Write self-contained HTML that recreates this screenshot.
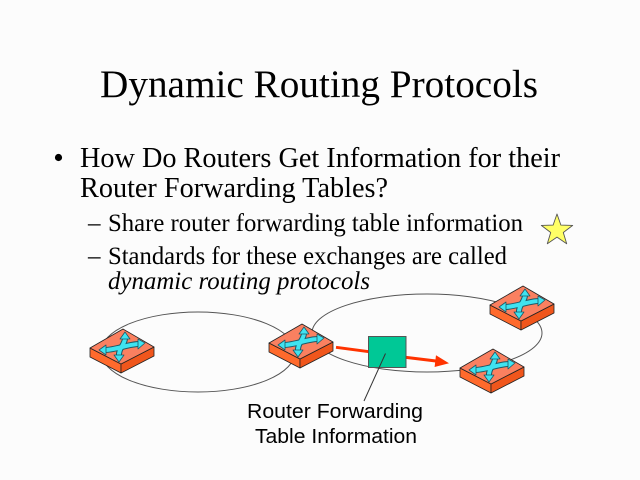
<!DOCTYPE html>
<html>
<head>
<meta charset="utf-8">
<style>
  html,body{margin:0;padding:0;background:#fcfcfc;}
  svg{display:block;}
</style>
</head>
<body>
<svg width="640" height="480" viewBox="0 0 640 480" xmlns="http://www.w3.org/2000/svg">
  <rect x="0" y="0" width="640" height="480" fill="#fcfcfc"/>

  <!-- Title -->
  <text x="100" y="97" font-family="'Liberation Serif', serif" font-size="39" fill="#000" textLength="438" lengthAdjust="spacingAndGlyphs">Dynamic Routing Protocols</text>

  <!-- Bullet -->
  <circle cx="58.5" cy="157.5" r="3.6" fill="#000"/>
  <text x="80" y="167" font-family="'Liberation Serif', serif" font-size="28" fill="#000" textLength="480" lengthAdjust="spacingAndGlyphs">How Do Routers Get Information for their</text>
  <text x="80" y="197" font-family="'Liberation Serif', serif" font-size="28" fill="#000" textLength="308" lengthAdjust="spacingAndGlyphs">Router Forwarding Tables?</text>

  <!-- Sub bullets -->
  <text x="88" y="231" font-family="'Liberation Serif', serif" font-size="25" fill="#000">–</text>
  <text x="108" y="231" font-family="'Liberation Serif', serif" font-size="25" fill="#000" textLength="415" lengthAdjust="spacingAndGlyphs">Share router forwarding table information</text>
  <text x="88" y="264" font-family="'Liberation Serif', serif" font-size="25" fill="#000">–</text>
  <text x="108" y="264" font-family="'Liberation Serif', serif" font-size="25" fill="#000" textLength="399" lengthAdjust="spacingAndGlyphs">Standards for these exchanges are called</text>
  <text x="108" y="289" font-family="'Liberation Serif', serif" font-size="25" font-style="italic" fill="#000" textLength="262" lengthAdjust="spacingAndGlyphs">dynamic routing protocols</text>

  <!-- Star -->
  <polygon points="557,214 560.9,225.1 572.7,225.4 563.3,232.5 566.7,243.8 557,237.1 547.3,243.8 550.7,232.5 541.3,225.4 553.1,225.1"
           fill="#ffff66" stroke="#555" stroke-width="0.9" stroke-linejoin="round"/>

  <!-- Ellipses -->
  <ellipse cx="198" cy="352" rx="97" ry="40" fill="none" stroke="#555" stroke-width="1"/>
  <ellipse cx="427" cy="333" rx="115" ry="39" fill="none" stroke="#555" stroke-width="1"/>

  <!-- Router definition -->
  <defs>
    <g id="router">
      <polygon points="-33,19 -2,35 -2,44 -33,28" fill="#ff6a2c" stroke="#222" stroke-width="0.8" stroke-linejoin="round"/>
      <polygon points="-2,35 31,18 31,27 -2,44" fill="#f0561c" stroke="#222" stroke-width="0.8" stroke-linejoin="round"/>
      <polygon points="0,0 31,18 -2,35 -33,19" fill="#fa8060" stroke="#222" stroke-width="0.8" stroke-linejoin="round"/>
      <g stroke-linecap="butt" fill="none">
        <path d="M2,9 C2,16 -5,19 -4,28" stroke="#1e5866" stroke-width="6"/>
        <path d="M-18,21 C-8,21 6,15 16,15" stroke="#1e5866" stroke-width="6"/>
        <path d="M2,9 C2,16 -5,19 -4,28" stroke="#3fe3f0" stroke-width="4"/>
        <path d="M-18,21 C-8,21 6,15 16,15" stroke="#3fe3f0" stroke-width="4"/>
      </g>
      <polygon points="2,3 -3,10 7,10" fill="#3fe3f0" stroke="#1e5866" stroke-width="0.8" stroke-linejoin="round"/>
      <polygon points="-4,33 -9,26 1,26" fill="#3fe3f0" stroke="#1e5866" stroke-width="0.8" stroke-linejoin="round"/>
      <polygon points="-24,21 -17,16 -17,26" fill="#3fe3f0" stroke="#1e5866" stroke-width="0.8" stroke-linejoin="round"/>
      <polygon points="22,14 15,10 15,20" fill="#3fe3f0" stroke="#1e5866" stroke-width="0.8" stroke-linejoin="round"/>
    </g>
  </defs>

  <!-- Routers -->
  <use href="#router" x="123" y="329"/>
  <use href="#router" x="302" y="324"/>
  <use href="#router" x="523" y="286"/>
  <use href="#router" x="493" y="349"/>

  <!-- Red arrow -->
  <line x1="336" y1="347.3" x2="369" y2="351.7" stroke="#ff3300" stroke-width="3"/>
  <line x1="405" y1="357.3" x2="438" y2="361.2" stroke="#ff3300" stroke-width="3"/>
  <polygon points="449,363.3 436,355.2 434.6,367" fill="#ff3300"/>

  <!-- Green square -->
  <rect x="368.5" y="336.5" width="37.5" height="31" fill="#00c896" stroke="#555" stroke-width="1"/>

  <!-- Leader line -->
  <line x1="385.5" y1="353.5" x2="364" y2="401" stroke="#333" stroke-width="1"/>

  <!-- Label -->
  <text x="335" y="418" text-anchor="middle" font-family="'Liberation Sans', Arial, sans-serif" font-size="20" fill="#000" textLength="176" lengthAdjust="spacingAndGlyphs">Router Forwarding</text>
  <text x="336" y="443" text-anchor="middle" font-family="'Liberation Sans', Arial, sans-serif" font-size="20" fill="#000" textLength="162" lengthAdjust="spacingAndGlyphs">Table Information</text>
</svg>
</body>
</html>
